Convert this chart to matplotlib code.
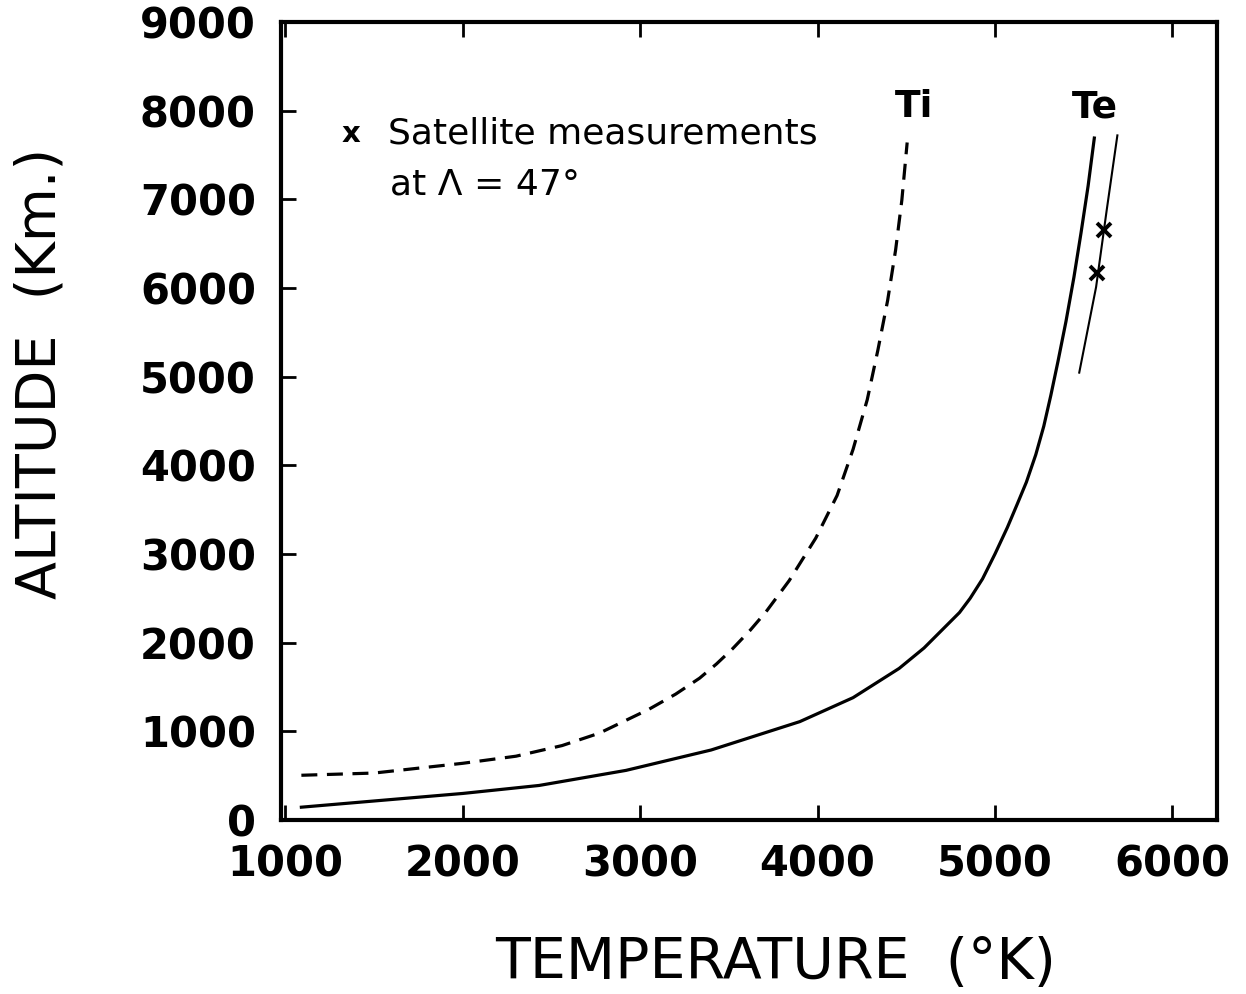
import matplotlib.pyplot as plt

# === DATOS ===
# Ti (línea discontinua)
ti_temp = [1090, 1500, 2000, 2300, 2560, 2770, 3050, 3200, 3335, 3430, 3520, 3620, 3710,
           3840, 3990, 4110, 4200, 4280, 4340, 4395, 4440, 4475, 4505]
ti_alt = [505, 530, 640, 720, 840, 980, 1250, 1420, 1600, 1760, 1930, 2140, 2350,
          2700, 3180, 3660, 4180, 4740, 5300, 5860, 6430, 6990, 7640]

# Te (línea continua)
te_temp = [1090, 1500, 2000, 2430, 2920, 3400, 3900, 4200, 4460, 4600, 4745, 4800, 4860,
           4930, 5000, 5070, 5125, 5177, 5230, 5275, 5315, 5355, 5400, 5445, 5485, 5525, 5560]
te_alt = [145, 215, 300, 390, 560, 790, 1110, 1380, 1710, 1940, 2230, 2340, 2500,
          2720, 3000, 3300, 3560, 3810, 4120, 4440, 4790, 5170, 5620, 6120, 6620, 7150, 7690]

# Te ajustada a medidas de satélite (línea fina)
sat_temp = [5475, 5570, 5630, 5690]
sat_alt = [5045, 6010, 6880, 7720]

# Medidas de satélite
meas_temp = [5617, 5577]
meas_alt = [6650, 6170]

xticks = [1000, 2000, 3000, 4000, 5000, 6000]
yticks = [0, 1000, 2000, 3000, 4000, 5000, 6000, 7000, 8000, 9000]

# === FIGURA ===
fig = plt.figure(figsize=(12.46, 9.94), dpi=100)
ax = fig.add_axes([0.2255, 0.175, 0.751, 0.803])

ax.plot(ti_temp, ti_alt, color='black', lw=2.3, ls=(0, (5, 3)))
ax.plot(te_temp, te_alt, color='black', lw=2.3)
ax.plot(sat_temp, sat_alt, color='black', lw=1.5)
ax.plot(meas_temp, meas_alt, ls='none', marker='x', ms=10, mew=2.8, color='black')

ax.set_xlim(975, 6250)
ax.set_ylim(0, 9000)

for s in ax.spines.values():
    s.set_linewidth(3)

ax.set_xticks(xticks)
ax.set_yticks(yticks)
ax.tick_params(axis='x', direction='in', length=11, width=2, top=True, pad=17,
               labelsize=30)
ax.tick_params(axis='y', direction='in', length=11, width=2, right=False, pad=18,
               labelsize=30)
for lab in ax.get_xticklabels() + ax.get_yticklabels():
    lab.set_fontweight('bold')

ax.set_xlabel('TEMPERATURE  (°K)', fontsize=41)
ax.set_ylabel('ALTITUDE  (Km.)', fontsize=40)
ax.xaxis.set_label_coords(0.529, -0.145)
ax.yaxis.set_label_coords(-0.228, 0.56)

ax.text(4546, 8040, 'Ti', fontsize=27, fontweight='bold', ha='center', va='center')
ax.text(5565, 8040, 'Te', fontsize=27, fontweight='bold', ha='center', va='center')

ax.text(1372, 7740, 'x', fontsize=21, fontweight='bold', ha='center', va='center')
ax.text(1580, 7740, 'Satellite measurements', fontsize=26, ha='left', va='center')
ax.text(1590, 7170, 'at Λ = 47°', fontsize=26, ha='left', va='center')

fig.savefig('out.png', dpi=100)
